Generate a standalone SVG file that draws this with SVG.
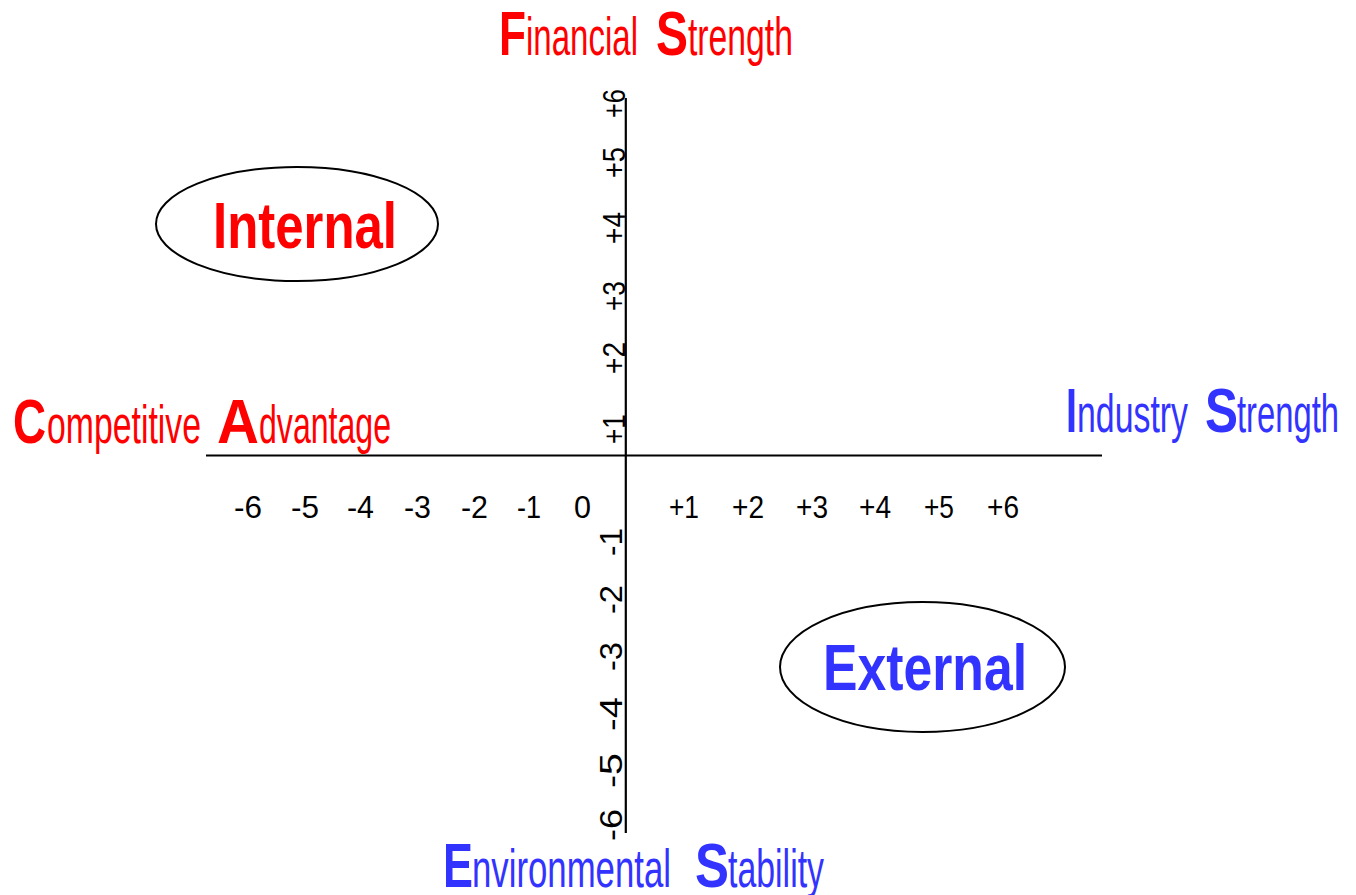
<svg xmlns="http://www.w3.org/2000/svg" width="1356" height="895" viewBox="0 0 1356 895">
<style>
text{font-family:"Liberation Sans",Arial,sans-serif}
.red{fill:#ff0000}
.blue{fill:#3333ff}
.cap{font-size:63px;font-weight:bold}
.sm{font-size:53px;font-weight:normal}
.num{font-size:31px;fill:#000}
.big{font-size:64px;font-weight:bold}
.ax{stroke:#000;stroke-width:2.2;fill:none}
.ell{stroke:#000;stroke-width:2;fill:#fff}
</style>
<rect width="1356" height="895" fill="#fff"/>
<g id="connectors">
<line class="ax" x1="206" y1="455.5" x2="1102" y2="455.5"/>
<line class="ax" x1="625.8" y1="98" x2="625.8" y2="833"/>
</g>
<g id="label-financial-strength">
<text class="red" y="55"><tspan class="cap" x="499" textLength="27" lengthAdjust="spacingAndGlyphs">F</tspan><tspan class="sm" x="526" textLength="112" lengthAdjust="spacingAndGlyphs">inancial</tspan><tspan class="cap" x="656" textLength="32" lengthAdjust="spacingAndGlyphs">S</tspan><tspan class="sm" x="688" textLength="105" lengthAdjust="spacingAndGlyphs">trength</tspan></text>
</g>
<g id="label-competitive-advantage">
<text class="red" y="443"><tspan class="cap" x="13" textLength="33" lengthAdjust="spacingAndGlyphs">C</tspan><tspan class="sm" x="47" textLength="154" lengthAdjust="spacingAndGlyphs">ompetitive</tspan><tspan class="cap" x="217" textLength="42" lengthAdjust="spacingAndGlyphs">A</tspan><tspan class="sm" x="259" textLength="132" lengthAdjust="spacingAndGlyphs">dvantage</tspan></text>
</g>
<g id="label-industry-strength">
<text class="blue" y="432"><tspan class="cap" x="1066" textLength="11" lengthAdjust="spacingAndGlyphs">I</tspan><tspan class="sm" x="1077" textLength="111" lengthAdjust="spacingAndGlyphs">ndustry</tspan><tspan class="cap" x="1205" textLength="33" lengthAdjust="spacingAndGlyphs">S</tspan><tspan class="sm" x="1237" textLength="102" lengthAdjust="spacingAndGlyphs">trength</tspan></text>
</g>
<g id="label-environmental-stability">
<text class="blue" y="887"><tspan class="cap" x="443" textLength="30" lengthAdjust="spacingAndGlyphs">E</tspan><tspan class="sm" x="472" textLength="199" lengthAdjust="spacingAndGlyphs">nvironmental</tspan><tspan class="cap" x="695" textLength="34" lengthAdjust="spacingAndGlyphs">S</tspan><tspan class="sm" x="728" textLength="96" lengthAdjust="spacingAndGlyphs">tability</tspan></text>
</g>
<g id="node-internal">
<ellipse class="ell" cx="297" cy="224" rx="141" ry="57"/>
<text class="red big" x="213" y="248" textLength="184" lengthAdjust="spacingAndGlyphs">Internal</text>
</g>
<g id="node-external">
<ellipse class="ell" cx="922.5" cy="667" rx="142.5" ry="65"/>
<text class="blue big" x="823" y="690" textLength="204" lengthAdjust="spacingAndGlyphs">External</text>
</g>
<g id="x-axis-labels">
<text class="num" x="234" y="518" textLength="28" lengthAdjust="spacingAndGlyphs">-6</text>
<text class="num" x="291" y="518" textLength="28" lengthAdjust="spacingAndGlyphs">-5</text>
<text class="num" x="347" y="518" textLength="27" lengthAdjust="spacingAndGlyphs">-4</text>
<text class="num" x="404" y="518" textLength="27" lengthAdjust="spacingAndGlyphs">-3</text>
<text class="num" x="461" y="518" textLength="27" lengthAdjust="spacingAndGlyphs">-2</text>
<text class="num" x="517" y="518" textLength="24" lengthAdjust="spacingAndGlyphs">-1</text>
<text class="num" x="574" y="518" textLength="17" lengthAdjust="spacingAndGlyphs">0</text>
<text class="num" x="669" y="518" textLength="30" lengthAdjust="spacingAndGlyphs">+1</text>
<text class="num" x="732" y="518" textLength="32" lengthAdjust="spacingAndGlyphs">+2</text>
<text class="num" x="796" y="518" textLength="32" lengthAdjust="spacingAndGlyphs">+3</text>
<text class="num" x="859" y="518" textLength="32" lengthAdjust="spacingAndGlyphs">+4</text>
<text class="num" x="924" y="518" textLength="30" lengthAdjust="spacingAndGlyphs">+5</text>
<text class="num" x="987" y="518" textLength="32" lengthAdjust="spacingAndGlyphs">+6</text>
</g>
<g id="y-axis-labels">
<text class="num" transform="translate(625,118) rotate(-90)" textLength="29" lengthAdjust="spacingAndGlyphs">+6</text>
<text class="num" transform="translate(625,178) rotate(-90)" textLength="31" lengthAdjust="spacingAndGlyphs">+5</text>
<text class="num" transform="translate(625,244) rotate(-90)" textLength="32" lengthAdjust="spacingAndGlyphs">+4</text>
<text class="num" transform="translate(625,311) rotate(-90)" textLength="30" lengthAdjust="spacingAndGlyphs">+3</text>
<text class="num" transform="translate(625,374) rotate(-90)" textLength="32" lengthAdjust="spacingAndGlyphs">+2</text>
<text class="num" transform="translate(625,444) rotate(-90)" textLength="30" lengthAdjust="spacingAndGlyphs">+1</text>
<text class="num" transform="translate(622,556) rotate(-90)" textLength="28" lengthAdjust="spacingAndGlyphs">-1</text>
<text class="num" transform="translate(622,614) rotate(-90)" textLength="29" lengthAdjust="spacingAndGlyphs">-2</text>
<text class="num" transform="translate(622,671) rotate(-90)" textLength="29" lengthAdjust="spacingAndGlyphs">-3</text>
<text class="num" transform="translate(622,731) rotate(-90)" textLength="34" lengthAdjust="spacingAndGlyphs">-4</text>
<text class="num" transform="translate(622,788) rotate(-90)" textLength="35" lengthAdjust="spacingAndGlyphs">-5</text>
<text class="num" transform="translate(622,841) rotate(-90)" textLength="32" lengthAdjust="spacingAndGlyphs">-6</text>
</g>
</svg>
